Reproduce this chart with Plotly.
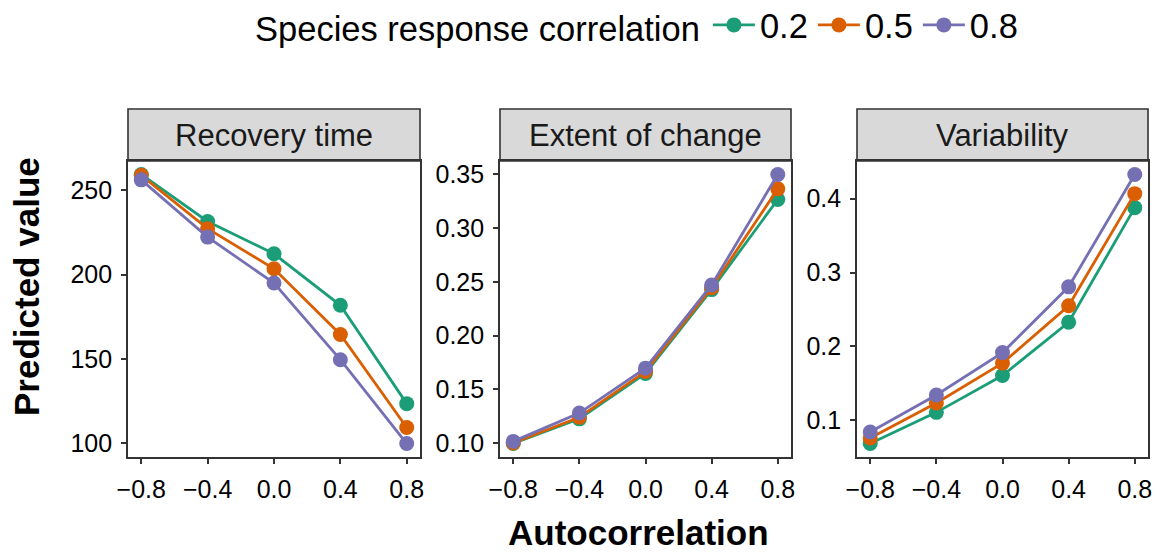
import plotly.graph_objects as go

# ---- data ----
autocorr = [-0.8, -0.4, 0.0, 0.4, 0.8]
groups = ["0.2", "0.5", "0.8"]
colors = ["#1B9E77", "#D95F02", "#7570B3"]
panels = ["Recovery time", "Extent of change", "Variability"]

recovery_02 = [259.5, 231.6, 212.4, 181.8, 123.4]
recovery_05 = [259.0, 227.3, 203.5, 164.5, 109.2]
recovery_08 = [256.3, 222.3, 195.0, 149.5, 99.7]

extent_02 = [0.0995, 0.1225, 0.1648, 0.2428, 0.3267]
extent_05 = [0.1000, 0.1240, 0.1665, 0.2445, 0.3366]
extent_08 = [0.1015, 0.1279, 0.1697, 0.2471, 0.3500]

variab_02 = [0.0686, 0.1108, 0.1607, 0.2327, 0.3879]
variab_05 = [0.0762, 0.1235, 0.1775, 0.2551, 0.4068]
variab_08 = [0.0843, 0.1343, 0.1917, 0.2807, 0.4328]

panel_data = [
    [recovery_02, recovery_05, recovery_08],
    [extent_02, extent_05, extent_08],
    [variab_02, variab_05, variab_08],
]
ytick_vals = [
    [100, 150, 200, 250],
    [0.10, 0.15, 0.20, 0.25, 0.30, 0.35],
    [0.1, 0.2, 0.3, 0.4],
]
ytick_fmt = ["d", ".2f", ".1f"]
xtick_vals = [-0.8, -0.4, 0.0, 0.4, 0.8]

# ---- layout geometry ----
W, H = 1162, 553
px_dom = [(128, 420), (500, 791), (857, 1148)]
plot_top, plot_bot, strip_top = 161, 457, 109
ydom = [1 - plot_bot / H, 1 - plot_top / H]

FONT = "Liberation Sans, Arial, Helvetica, sans-serif"
DARK = "#333333"

fig = go.Figure()
layout = dict(
    width=W, height=H,
    margin=dict(l=0, r=0, t=0, b=0, autoexpand=False),
    paper_bgcolor="white", plot_bgcolor="white",
    font=dict(family=FONT, color="black"),
    showlegend=True,
    shapes=[], annotations=[],
)

def expand(lo, hi, f=0.05):
    d = (hi - lo) * f
    return [lo - d, hi + d]

for p in range(3):
    sfx = "" if p == 0 else str(p + 1)
    for g in range(3):
        fig.add_trace(go.Scatter(
            x=autocorr, y=panel_data[p][g],
            mode="lines+markers",
            name=groups[g],
            legendgroup=groups[g],
            showlegend=(p == 0),
            line=dict(color=colors[g], width=2.8),
            marker=dict(color=colors[g], size=15),
            xaxis="x" + sfx, yaxis="y" + sfx,
        ))
    allv = [v for s in panel_data[p] for v in s]
    x0, x1 = px_dom[p]
    common = dict(
        showgrid=False, zeroline=False, showline=True, mirror=True,
        linecolor=DARK, linewidth=1.6,
        ticks="outside", ticklen=5, tickwidth=1.6, tickcolor=DARK,
        tickfont=dict(size=25, color="black", family=FONT),
        automargin=False,
    )
    layout["xaxis" + sfx] = dict(
        common, domain=[x0 / W, x1 / W], anchor="y" + sfx,
        range=expand(min(autocorr), max(autocorr)),
        tickvals=xtick_vals, tickformat=".1f", ticklabelstandoff=4,
    )
    layout["yaxis" + sfx] = dict(
        common, domain=ydom, anchor="x" + sfx,
        range=expand(min(allv), max(allv)),
        tickvals=ytick_vals[p], tickformat=ytick_fmt[p], ticklabelstandoff=4,
    )
    # strip
    layout["shapes"].append(dict(
        type="rect", xref="paper", yref="paper",
        x0=x0 / W, x1=x1 / W, y0=1 - plot_top / H, y1=1 - strip_top / H,
        fillcolor="#D9D9D9", line=dict(color=DARK, width=1.6), layer="below",
    ))
    layout["annotations"].append(dict(
        text=panels[p], xref="paper", yref="paper",
        x=(x0 + x1) / 2 / W, y=1 - (plot_top + strip_top) / 2 / H,
        xanchor="center", yanchor="middle", showarrow=False,
        font=dict(size=31, color="#1A1A1A", family=FONT),
    ))

# axis titles
layout["annotations"].append(dict(
    text="<b>Autocorrelation</b>", xref="paper", yref="paper",
    x=(px_dom[0][0] + px_dom[2][1]) / 2 / W, y=1 - 532 / H,
    xanchor="center", yanchor="middle", showarrow=False, borderpad=0,
    font=dict(size=35, color="black", family=FONT),
))
layout["annotations"].append(dict(
    text="<b>Predicted value</b>", xref="paper", yref="paper",
    x=26 / W, y=1 - 287 / H, textangle=-90,
    xanchor="center", yanchor="middle", showarrow=False,
    font=dict(size=35, color="black", family=FONT),
))

layout["legend"] = dict(
    orientation="h", x=(px_dom[0][0] + px_dom[2][1]) / 2 / W, xanchor="center",
    y=1 - 25 / H, yanchor="middle",
    title=dict(text="Species response correlation", side="left",
               font=dict(size=34.5, color="black", family=FONT)),
    font=dict(size=34.5, color="black", family=FONT),
    itemwidth=42, tracegroupgap=0, bgcolor="rgba(0,0,0,0)",
)

fig.update_layout(**layout)
fig.write_html("out.html")
